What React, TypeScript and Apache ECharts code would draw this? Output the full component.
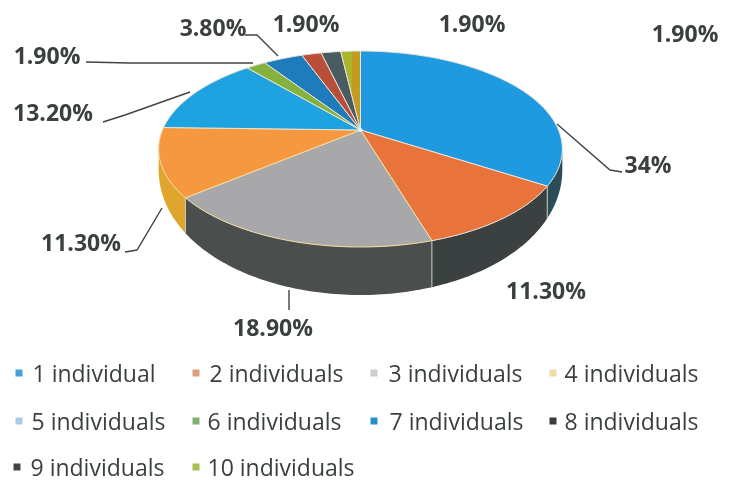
import React, { useEffect, useRef } from "react";
import * as echarts from "echarts";

const categories = ["1 individual", "2 individuals", "3 individuals", "4 individuals", "5 individuals", "6 individuals", "7 individuals", "8 individuals", "9 individuals", "10 individuals"];
const values = [34, 11.3, 18.9, 11.3, 13.2, 1.9, 3.8, 1.9, 1.9, 1.9];
const valueLabels = ["34%", "11.30%", "18.90%", "11.30%", "13.20%", "1.90%", "3.80%", "1.90%", "1.90%", "1.90%"];

const topColors: any[] = ["#1f9ae0", "#e8743c", "#a8a8aa", "#f6983f", "#1fa2e0", "#84b23c", "#1e7cbc", "#b94f38", "#4a5c62",
  { type: "linear", x: 0, y: 0, x2: 1, y2: 0, colorStops: [{ offset: 0, color: "#a9b62a" }, { offset: 0.58, color: "#a9b62a" }, { offset: 0.58, color: "#c59a22" }, { offset: 1, color: "#c59a22" }] }];
const wallColors = ["#2c4d58", "#3b4140", "#4a4f4d", "#dfa52c", "#1878b0", "#5c8028", "#145a88", "#803524", "#333f44", "#80791c"];
const legendColors = ["#4a9fd8", "#dba07c", "#cccccc", "#f0dca6", "#a9cde8", "#7fb072", "#2a8fc8", "#3a3a3a", "#444444", "#a8c050"];

const labelPos = [[648, 164], [546, 290], [273, 327], [81, 242], [53, 112], [47, 55], [213, 27], [306, 23], [472, 23], [685, 33]];
const leaders = [
  [[557, 124], [610, 170], [622, 172]],
  [[289, 290], [289, 310]],
  [[162, 208], [137, 250], [125, 252]],
  [[190, 92], [125, 115], [103, 122]],
  [[253, 63], [130, 63], [86, 62]],
  [[278, 56], [257, 35], [245, 35]],
];
const legendMarkerX = [19, 196, 374, 553, 19, 196, 374, 553, 17, 196];
const legendTextGap = [5, 5, 6, 3, 4, 3, 7, 3, 5, 3];
const legendRowY = [374, 422, 468];

// Projection of the pie disc: a circle seen in perspective
const CX = 360.5, CY = 130, A = 198, B = 94.3, K = 0.194;
const project = (deg: number, depth = false) => {
  const t = (deg * Math.PI) / 180;
  const u = Math.sin(t), v = Math.cos(t), w = 1 + K * v;
  const x = CX + (A * u) / w, y = CY - (B * v) / w;
  return depth ? [x, y + 14 - 34 * v] : [x, y];
};
const total = values.reduce((a, b) => a + b, 0);
const cum: number[] = [];
values.reduce((a, b, i) => ((cum[i] = a), a + b), 0);
const WALL_FROM = 101, WALL_TO = 259;

const renderSlice = (i: number) => (_: any, api: any) => {
  const val = api.value(0);
  const a0 = (cum[i] / total) * 360, a1 = a0 + (val / total) * 360;
  const pts: number[][] = [[CX, CY]];
  const n = Math.max(4, Math.ceil(a1 - a0));
  for (let k = 0; k <= n; k++) pts.push(project(a0 + ((a1 - a0) * k) / n));
  const children: any[] = [];
  const w0 = Math.max(a0, WALL_FROM), w1 = Math.min(a1, WALL_TO);
  if (w1 > w0) {
    const up: number[][] = [], lo: number[][] = [];
    const m = Math.ceil(w1 - w0);
    for (let k = 0; k <= m; k++) {
      const d = w0 + ((w1 - w0) * k) / m;
      up.push(project(d));
      lo.unshift(project(d, true));
    }
    children.push({ type: "polygon", z2: 1, shape: { points: up.concat(lo) }, style: { fill: wallColors[i] } });
    if (a0 >= WALL_FROM) {
      const p = project(a0), q = project(a0, true);
      children.push({ type: "line", z2: 2, shape: { x1: p[0], y1: p[1], x2: q[0], y2: q[1] }, style: { stroke: "#c9c9c4", lineWidth: 1 } });
    }
  }
  children.push({ type: "polygon", z2: 3, shape: { points: pts }, style: { fill: topColors[i], stroke: i === 3 || i === 2 ? "#f4dca0" : "#e9e4da", lineWidth: 1 } });
  return { type: "group", children };
};

export default function App() {
  const ref = useRef<HTMLDivElement>(null);
  useEffect(() => {
    const chart = echarts.init(ref.current!, null, { renderer: "svg" });
    const graphic: any[] = [
      ...leaders.map((p) => ({ type: "polyline", z: 5, shape: { points: p }, style: { stroke: "#3f4444", lineWidth: 1.4, fill: "none" } })),
      { type: "circle", z: 6, shape: { cx: CX, cy: CY, r: 2 }, style: { fill: "#eaf6fb" } },
      ...valueLabels.map((t, i) => ({
        type: "text", z: 6, x: labelPos[i][0], y: labelPos[i][1],
        style: { text: t, fill: "#3a3f40", font: 'bold 23px "Open Sans"', align: "center", verticalAlign: "middle" },
      })),
    ];
    chart.setOption({
      animation: false,
      backgroundColor: "#ffffff",
      legend: categories.map((c, i) => ({
        show: true,
        data: [{ name: c, itemStyle: { color: legendColors[i] } }],
        left: legendMarkerX[i] - 3.5,
        top: legendRowY[Math.floor(i / 4)] - 12.5,
        padding: 0,
        itemWidth: 7,
        itemHeight: 7,
        icon: "rect",
        selectedMode: false,
        textStyle: { fontFamily: "Open Sans", fontSize: 23, lineHeight: 22, color: "#3a3f40", padding: [0, 0, 0, legendTextGap[i]] },
      })),
      graphic,
      series: categories.map((c, i) => ({
        type: "custom",
        name: c,
        coordinateSystem: "none",
        renderItem: renderSlice(i),
        data: [[values[i]]],
        itemStyle: { color: legendColors[i] },
        silent: true,
      })),
    });
    return () => chart.dispose();
  }, []);
  return <div ref={ref} style={{ position: "absolute", left: 0, top: 0, width: 736, height: 483, filter: "blur(0.4px)" }} />;
}
